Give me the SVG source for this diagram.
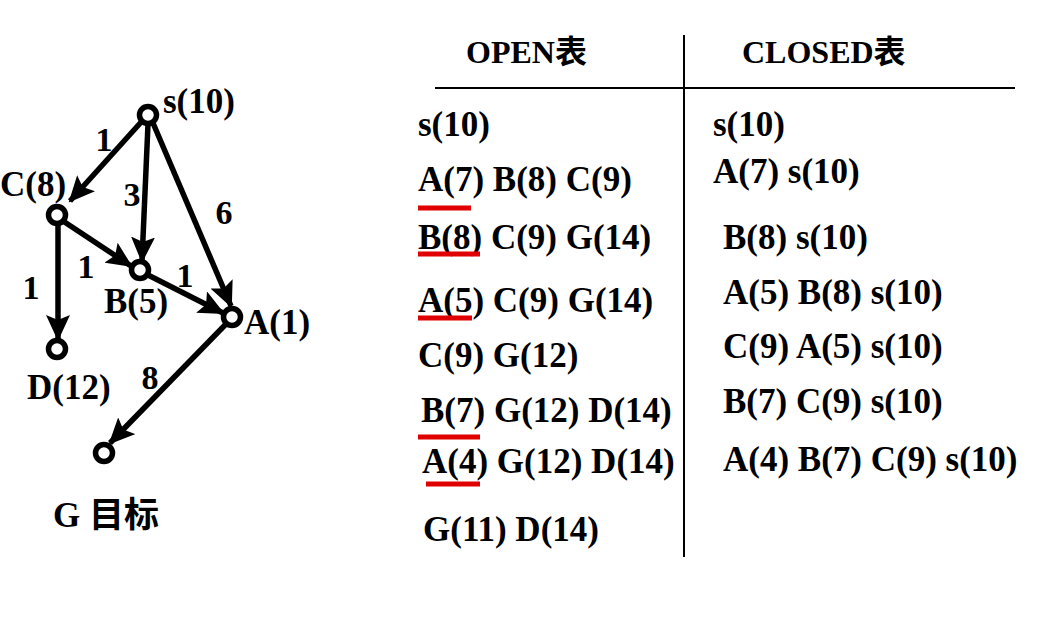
<svg xmlns="http://www.w3.org/2000/svg" width="1047" height="636" viewBox="0 0 1047 636">
<style>
.t{font-family:"Liberation Serif","Noto Sans CJK SC",serif;font-weight:bold;font-size:35px;fill:#000}
.w{font-family:"Liberation Serif",serif;font-weight:bold;font-size:34px;fill:#000;text-anchor:middle}
.h{font-family:"Liberation Serif","Noto Sans CJK SC",serif;font-weight:bold;font-size:32px;fill:#000}
.node{fill:#fff;stroke:#000;stroke-width:5.5}
.edge{stroke:#000;stroke-width:5.5;fill:none}
.ul{stroke:#e00000;stroke-width:5}
.rule{stroke:#000;stroke-width:2}
</style>
<defs>
<marker id="arr" markerUnits="userSpaceOnUse" markerWidth="26" markerHeight="24" viewBox="0 0 26 24" refX="24" refY="12" orient="auto">
<path d="M0,0 L26,12 L0,24 L5,12 Z" fill="#000"/>
</marker>
</defs>
<rect width="1047" height="636" fill="#fff"/>
<g id="connectors">
<line class="edge" x1="143" y1="120" x2="70" y2="201" marker-end="url(#arr)"/>
<line class="edge" x1="148" y1="124" x2="142" y2="261" marker-end="url(#arr)"/>
<line class="edge" x1="153" y1="123" x2="231" y2="306" marker-end="url(#arr)"/>
<line class="edge" x1="63" y1="221" x2="131" y2="266" marker-end="url(#arr)"/>
<line class="edge" x1="58" y1="224" x2="58" y2="339" marker-end="url(#arr)"/>
<line class="edge" x1="148" y1="275" x2="223" y2="313" marker-end="url(#arr)"/>
<line class="edge" x1="226" y1="324" x2="110" y2="443" marker-end="url(#arr)"/>
</g>
<g id="edge-labels">
<text class="w" x="104" y="151">1</text>
<text class="w" x="132" y="206">3</text>
<text class="w" x="224" y="224">6</text>
<text class="w" x="86" y="278">1</text>
<text class="w" x="185" y="287">1</text>
<text class="w" x="31" y="299">1</text>
<text class="w" x="150" y="389">8</text>
</g>
<g id="node-s"><circle class="node" cx="148" cy="115" r="8.5"/><text class="t" x="163" y="113">s(10)</text></g>
<g id="node-C"><circle class="node" cx="57" cy="215" r="8.5"/><text class="t" x="0" y="196">C(8)</text></g>
<g id="node-B"><circle class="node" cx="140" cy="270" r="8.5"/><text class="t" x="104" y="313">B(5)</text></g>
<g id="node-A"><circle class="node" cx="232" cy="317" r="8.5"/><text class="t" x="244" y="334">A(1)</text></g>
<g id="node-D"><circle class="node" cx="57" cy="349" r="8.5"/><text class="t" x="27" y="399">D(12)</text></g>
<g id="node-G"><circle class="node" cx="104" cy="453" r="8.5"/><text class="t" x="53" y="527">G 目标</text></g>
<g id="table">
<line class="rule" x1="684" y1="35" x2="684" y2="557"/>
<line class="rule" x1="435" y1="88" x2="1015" y2="88"/>
<text class="h" x="466" y="63">OPEN表</text>
<text class="h" x="742" y="63">CLOSED表</text>
<text class="t" x="418" y="136">s(10)</text>
<text class="t" x="418" y="191">A(7) B(8) C(9)</text>
<text class="t" x="418" y="249">B(8) C(9) G(14)</text>
<text class="t" x="418" y="312">A(5) C(9) G(14)</text>
<text class="t" x="418" y="367">C(9) G(12)</text>
<text class="t" x="421" y="422">B(7) G(12) D(14)</text>
<text class="t" x="422" y="473">A(4) G(12) D(14)</text>
<text class="t" x="423" y="541">G(11) D(14)</text>
<line class="ul" x1="418" y1="208" x2="471" y2="208"/>
<line class="ul" x1="418" y1="254" x2="480" y2="254"/>
<line class="ul" x1="418" y1="318" x2="472" y2="318"/>
<line class="ul" x1="418" y1="437" x2="480" y2="437"/>
<line class="ul" x1="426" y1="484" x2="480" y2="484"/>
<text class="t" x="713" y="136">s(10)</text>
<text class="t" x="713" y="183">A(7) s(10)</text>
<text class="t" x="723" y="249">B(8) s(10)</text>
<text class="t" x="723" y="304">A(5) B(8) s(10)</text>
<text class="t" x="723" y="358">C(9) A(5) s(10)</text>
<text class="t" x="723" y="413">B(7) C(9) s(10)</text>
<text class="t" x="723" y="471">A(4) B(7) C(9) s(10)</text>
</g>
</svg>
